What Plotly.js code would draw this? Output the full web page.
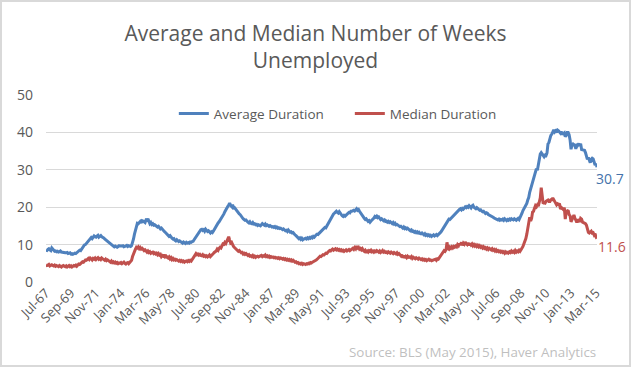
<!DOCTYPE html>
<html>
<head>
<meta charset="utf-8">
<script src="https://cdn.plot.ly/plotly-3.0.1.min.js"></script>
<style>
  html, body { margin: 0; padding: 0; background: #fff; }
  #wrap { position: relative; width: 631px; height: 367px; }
  #chart { width: 631px; height: 367px; }
  #frame { position: absolute; left: 0; top: 0; width: 631px; height: 367px; box-sizing: border-box; border: 2px solid #d9d9d9; pointer-events: none; }
</style>
</head>
<body>
<div id="wrap"><div id="chart"></div><div id="frame"></div></div>
<script>
// First month of the series and its x-axis tick labels (every 26 months)
const startYear = 1967;
const startMonth = 7; // July
const tickLabels = ['Jul-67','Sep-69','Nov-71','Jan-74','Mar-76','May-78','Jul-80','Sep-82','Nov-84','Jan-87','Mar-89','May-91','Jul-93','Sep-95','Nov-97','Jan-00','Mar-02','May-04','Jul-06','Sep-08','Nov-10','Jan-13','Mar-15'];

// Average Duration (weeks), monthly Jul-1967 .. Apr-2015
const avgDuration = [
  8.5, 8.4, 8.7, 8.9, 8.6, 8.4,
  9.1, 8.7, 8.4, 8.2, 8.3, 8.1, 8.2, 8.0, 8.1, 8.3, 8.0, 7.9,
  8.0, 7.9, 7.8, 7.8, 7.9, 7.6, 7.7, 7.8, 7.5, 7.6, 7.4, 7.6,
  7.7, 7.6, 7.8, 8.2, 8.3, 8.5, 8.4, 8.8, 9.0, 9.4, 9.9, 10.0,
  10.3, 10.5, 10.9, 11.2, 11.4, 11.9, 11.6, 11.9, 12.3, 12.1, 12.0, 12.3,
  12.5, 12.0, 12.2, 12.4, 12.1, 12.0, 11.8, 11.5, 11.3, 11.0, 10.7, 10.5,
  10.4, 10.2, 10.0, 9.8, 9.6, 9.4, 9.6, 9.5, 9.3, 9.5, 9.7, 9.6,
  9.5, 9.6, 9.7, 9.4, 9.5, 9.6, 9.8, 9.5, 9.7, 9.6, 9.5, 9.7,
  10.4, 11.5, 12.8, 13.8, 14.9, 15.7, 15.6, 16.0, 16.2, 15.8, 16.4, 16.3,
  16.1, 15.9, 16.6, 16.5, 16.9, 16.2, 15.6, 15.9, 15.4, 15.6, 15.2, 15.3,
  15.0, 14.9, 14.7, 14.9, 14.6, 14.2, 14.4, 14.0, 13.8, 13.5, 13.3, 13.0,
  12.8, 12.6, 12.2, 12.4, 11.9, 11.7, 11.5, 11.6, 11.2, 11.0, 11.3, 10.9,
  10.8, 11.0, 10.7, 10.6, 10.4, 10.7, 10.5, 10.3, 10.6, 10.4, 10.5, 10.4,
  10.7, 10.6, 10.8, 10.9, 11.3, 11.7, 12.1, 12.6, 13.1, 13.4, 13.6, 14.0,
  14.1, 13.8, 14.0, 13.6, 14.1, 13.8, 13.5, 13.7, 13.3, 13.1, 13.4, 13.2,
  13.6, 14.1, 14.5, 14.8, 15.3, 15.8, 16.1, 16.5, 16.9, 17.3, 17.6, 18.2,
  18.8, 19.4, 19.8, 20.2, 20.6, 21.1, 20.5, 20.2, 20.7, 19.8, 19.9, 19.5,
  19.3, 18.9, 18.5, 18.2, 18.0, 17.5, 17.3, 16.9, 16.7, 16.5, 16.6, 16.2,
  16.0, 15.8, 16.1, 15.7, 15.6, 15.9, 15.5, 15.6, 15.3, 15.4, 15.1, 15.3,
  15.2, 15.0, 15.3, 15.6, 15.4, 15.2, 15.5, 15.1, 15.3, 15.0, 14.9, 15.1,
  14.9, 14.7, 14.8, 14.6, 14.8, 14.5, 14.7, 14.4, 14.5, 14.3, 14.4, 14.2,
  14.0, 14.2, 13.9, 13.7, 13.8, 13.5, 13.9, 13.6, 13.3, 13.4, 13.1, 13.2,
  12.8, 12.6, 12.4, 12.1, 11.9, 11.6, 11.8, 11.4, 11.7, 11.3, 11.5, 11.6,
  11.7, 11.5, 11.8, 11.6, 11.9, 11.7, 12.0, 11.8, 12.2, 12.0, 12.4, 12.6,
  12.8, 12.7, 13.0, 13.3, 13.5, 13.8, 14.0, 14.2, 14.6, 14.5, 15.0, 15.3,
  15.8, 16.4, 16.9, 17.3, 17.7, 18.2, 18.4, 18.6, 18.9, 18.6, 18.4, 18.8,
  18.3, 18.0, 17.7, 17.5, 17.8, 17.6, 17.9, 18.1, 18.3, 18.6, 18.5, 18.9,
  18.9, 19.1, 19.2, 19.0, 19.3, 19.6, 19.2, 19.4, 18.9, 18.6, 18.2, 17.8,
  17.4, 17.0, 16.7, 16.9, 16.5, 16.2, 16.4, 16.0, 16.3, 16.5, 16.9, 17.1,
  17.5, 17.3, 17.6, 17.2, 17.4, 17.0, 16.7, 16.9, 16.5, 16.4, 16.6, 16.2,
  16.3, 16.0, 16.2, 15.9, 16.1, 15.8, 15.6, 15.9, 15.5, 15.7, 15.3, 15.4,
  15.2, 15.0, 14.8, 14.9, 14.6, 14.4, 14.7, 14.3, 14.5, 14.2, 14.4, 14.0,
  13.9, 13.7, 13.9, 13.5, 13.6, 13.3, 13.5, 13.2, 13.4, 13.1, 13.3, 13.0,
  12.9, 13.1, 12.8, 12.6, 12.9, 12.5, 12.7, 12.4, 12.6, 12.3, 12.5, 12.2,
  12.4, 12.6, 12.3, 12.5, 12.7, 12.4, 12.6, 12.9, 13.2, 13.5, 13.9, 14.4,
  14.8, 15.3, 15.8, 16.1, 16.5, 16.8, 16.7, 17.0, 17.2, 17.6, 17.9, 18.2,
  18.4, 18.6, 18.9, 19.2, 19.4, 19.6, 19.3, 19.7, 19.5, 19.8, 20.1, 19.9,
  20.2, 20.0, 20.4, 20.1, 19.8, 20.3, 20.5, 20.0, 19.8, 19.6, 19.9, 19.5,
  19.4, 19.2, 19.3, 19.0, 18.8, 18.9, 18.6, 18.3, 18.5, 18.4, 18.0, 17.9,
  17.8, 17.5, 17.6, 17.3, 17.1, 17.0, 16.8, 16.9, 16.6, 16.8, 16.5, 16.7,
  16.6, 16.8, 16.5, 16.9, 16.6, 16.4, 16.7, 16.5, 16.8, 16.6, 16.9, 16.7,
  16.6, 16.9, 16.7, 16.5, 16.8, 17.0, 16.7, 17.2, 17.5, 18.4, 19.1, 19.6,
  19.8, 20.2, 21.0, 21.9, 22.6, 24.0, 25.0, 25.4, 26.5, 27.4, 28.9, 29.3,
  30.3, 29.9, 31.5, 33.3, 34.2, 34.6, 34.1, 33.7, 33.5, 33.9, 33.8, 34.5,
  36.9, 37.3, 38.8, 39.2, 39.5, 40.1, 40.7, 40.1, 40.4, 40.0, 40.6, 40.4,
  40.2, 39.8, 40.2, 39.4, 39.7, 39.9, 38.9, 39.2, 40.0, 40.0, 39.4, 38.0,
  35.5, 36.7, 36.9, 36.6, 36.5, 35.6, 36.9, 36.6, 37.0, 36.4, 37.0, 35.4,
  35.4, 35.2, 35.2, 34.6, 33.6, 32.8, 33.3, 32.6, 31.9, 32.8, 33.1, 32.9,
  32.0, 31.3, 31.6, 30.7
];

// Median Duration (weeks), monthly Jul-1967 .. Apr-2015
const medDuration = [
  4.6, 4.4, 4.5, 4.7, 4.3, 4.4,
  4.6, 4.4, 4.3, 4.5, 4.2, 4.4, 4.3, 4.1, 4.4, 4.2, 4.0, 4.3,
  4.4, 4.2, 4.1, 4.3, 4.0, 4.2, 4.4, 4.1, 4.3, 4.0, 4.2, 4.4,
  4.3, 4.5, 4.2, 4.6, 4.8, 4.7, 4.9, 5.2, 5.4, 5.3, 5.7, 5.9,
  5.8, 6.1, 6.3, 6.0, 6.4, 6.2, 5.9, 6.3, 6.1, 6.4, 6.0, 6.3,
  6.5, 6.1, 6.3, 6.0, 6.4, 6.2, 6.0, 5.8, 6.1, 5.7, 5.9, 5.6,
  5.5, 5.3, 5.6, 5.2, 5.4, 5.1, 5.3, 5.0, 5.2, 4.9, 5.1, 5.0,
  5.2, 4.9, 5.1, 5.3, 5.0, 4.8, 5.1, 5.2, 4.9, 5.3, 5.6, 5.8,
  6.8, 7.6, 8.5, 8.8, 9.3, 9.1, 9.4, 8.9, 9.2, 8.8, 9.0, 8.7,
  8.4, 8.6, 8.2, 8.0, 8.3, 7.9, 8.1, 7.7, 7.9, 8.0, 7.6, 7.8,
  7.5, 7.7, 7.3, 7.6, 7.2, 7.4, 6.8, 7.1, 6.9, 7.3, 6.7, 6.9,
  6.6, 6.4, 6.7, 6.2, 6.5, 6.0, 6.3, 5.9, 6.1, 5.8, 6.0, 5.7,
  5.6, 5.8, 5.5, 5.7, 5.4, 5.6, 5.3, 5.5, 5.6, 5.4, 5.7, 5.5,
  5.8, 5.6, 6.0, 6.3, 6.8, 7.4, 7.6, 7.3, 7.5, 7.2, 7.4, 7.1,
  7.0, 7.3, 6.9, 7.1, 6.8, 7.0, 6.7, 6.9, 7.2, 6.8, 7.0, 7.3,
  7.6, 7.9, 8.1, 8.3, 8.8, 8.5, 9.0, 9.3, 9.1, 9.7, 10.2, 10.1,
  10.6, 10.3, 10.9, 11.5, 12.1, 11.2, 10.4, 10.6, 9.9, 9.5, 9.2, 8.9,
  8.7, 8.5, 8.2, 8.4, 8.0, 7.8, 7.9, 7.5, 7.7, 7.4, 7.6, 7.2,
  7.1, 7.3, 6.9, 7.0, 6.8, 7.1, 6.7, 6.9, 6.6, 6.8, 6.9, 6.7,
  6.8, 6.9, 7.1, 6.8, 7.0, 6.9, 7.2, 6.8, 7.0, 6.7, 6.9, 6.6,
  6.8, 6.6, 6.7, 6.5, 6.6, 6.4, 6.5, 6.3, 6.5, 6.2, 6.4, 6.3,
  6.1, 6.3, 6.0, 6.2, 5.9, 6.1, 5.8, 6.0, 5.7, 5.9, 5.6, 5.8,
  5.5, 5.3, 5.4, 5.1, 5.2, 4.9, 5.0, 4.8, 5.0, 4.7, 4.9, 4.8,
  4.7, 4.9, 4.8, 5.0, 4.9, 5.2, 5.1, 5.3, 5.4, 5.6, 5.8, 5.9,
  6.1, 6.3, 6.6, 6.9, 6.8, 7.1, 7.3, 7.2, 7.5, 7.7, 7.6, 8.0,
  8.2, 8.4, 8.3, 8.6, 8.8, 8.5, 8.7, 8.9, 8.6, 8.8, 8.5, 8.7,
  8.4, 8.6, 8.3, 8.5, 8.2, 8.4, 8.6, 8.3, 8.5, 8.7, 8.4, 8.6,
  8.8, 9.0, 8.7, 9.2, 8.9, 9.6, 9.1, 9.3, 8.8, 9.0, 8.6, 8.9,
  8.4, 8.2, 8.5, 8.1, 8.3, 8.0, 8.4, 8.2, 8.5, 8.1, 8.3, 8.0,
  8.3, 8.1, 8.4, 8.2, 8.0, 8.3, 7.9, 8.1, 8.4, 8.0, 8.2, 7.9,
  8.0, 7.8, 8.1, 7.9, 7.7, 8.0, 7.8, 7.6, 7.9, 7.7, 7.5, 7.8,
  7.4, 7.6, 7.2, 7.0, 7.3, 6.5, 7.1, 6.4, 6.8, 6.5, 6.9, 6.6,
  6.7, 6.5, 6.8, 6.3, 6.6, 6.4, 6.2, 6.5, 6.3, 6.1, 6.4, 6.2,
  6.0, 6.2, 5.9, 6.1, 5.8, 6.0, 5.7, 5.9, 6.1, 5.8, 5.9, 5.7,
  5.8, 6.0, 5.9, 6.1, 5.8, 6.2, 6.1, 6.5, 6.8, 7.2, 7.6, 8.0,
  8.4, 8.2, 8.6, 10.6, 9.0, 8.8, 9.3, 9.0, 9.4, 9.1, 9.5, 9.3,
  9.6, 9.4, 10.0, 9.7, 10.3, 9.9, 10.6, 9.8, 10.4, 10.1, 10.7, 10.2,
  10.0, 10.5, 9.8, 10.3, 9.9, 10.2, 9.7, 10.0, 9.6, 9.9, 9.5, 9.8,
  9.4, 9.7, 9.3, 9.5, 9.1, 9.4, 9.0, 9.2, 8.8, 9.1, 8.7, 9.0,
  8.8, 8.6, 8.9, 8.5, 8.7, 8.3, 8.6, 8.2, 8.4, 8.1, 8.3, 8.0,
  8.2, 7.9, 8.1, 7.7, 8.0, 7.6, 8.2, 7.8, 8.1, 7.9, 8.3, 8.0,
  8.2, 7.9, 8.4, 8.0, 8.3, 8.1, 8.5, 8.2, 8.6, 9.0, 9.5, 10.2,
  10.7, 11.6, 12.8, 14.3, 15.2, 17.3, 16.3, 17.0, 18.7, 18.9, 19.7, 20.4,
  20.1, 20.6, 20.3, 21.6, 22.5, 25.2, 22.3, 21.0, 21.2, 21.1, 21.6, 21.8,
  21.9, 21.5, 21.5, 22.0, 22.0, 22.5, 21.9, 21.6, 21.1, 20.6, 20.9, 20.7,
  21.0, 19.5, 19.9, 19.5, 19.4, 19.9, 16.8, 18.7, 18.9, 19.2, 18.0, 17.7,
  16.1, 16.7, 17.7, 17.9, 17.1, 16.2, 15.9, 16.7, 16.5, 16.1, 17.0, 16.8,
  16.0, 15.9, 15.6, 15.6, 15.2, 13.7, 13.3, 13.1, 13.3, 13.6, 13.1, 13.2,
  12.6, 12.9, 12.0, 11.6
];

const yTicks = [0, 10, 20, 30, 40, 50];
const seriesNames = ['Average Duration', 'Median Duration'];
const titleText = 'Average and Median Number of Weeks<br>Unemployed';
const sourceText = 'Source: BLS (May 2015), Haver Analytics';

// Month category labels (e.g. "Jul-67") for each data point
const monNames = ['Jan','Feb','Mar','Apr','May','Jun','Jul','Aug','Sep','Oct','Nov','Dec'];
const months = avgDuration.map((_, i) => {
  const t = (startMonth - 1) + i;
  const y = startYear + Math.floor(t / 12);
  return monNames[t % 12] + '-' + String(y % 100).padStart(2, '0');
});

const blue = '#4F81BD';
const red = '#C0504D';
const grey = '#595959';
const FONT = 'Open Sans, sans-serif';

const lastIdx = months.length - 1;

const traces = [
  { x: months, y: avgDuration, type: 'scatter', mode: 'lines', name: seriesNames[0],
    line: { color: blue, width: 3 } },
  { x: months, y: medDuration, type: 'scatter', mode: 'lines', name: seriesNames[1],
    line: { color: red, width: 3 } }
];

const M = { l: 46, r: 34, t: 95, b: 85 };
const PW = 631 - M.l - M.r;
const PH = 367 - M.t - M.b;

const layout = {
  width: 631, height: 367,
  margin: M,
  paper_bgcolor: '#ffffff', plot_bgcolor: '#ffffff',
  font: { family: FONT, color: grey },
  title: { text: titleText, font: { family: FONT, size: 21, color: grey },
           x: 0.5, xref: 'container', xanchor: 'center', y: 1 - 41 / 367, yref: 'container', yanchor: 'middle' },
  showlegend: true,
  legend: { orientation: 'h', x: 0.232, xanchor: 'left', y: 0.9, yanchor: 'middle',
            font: { family: FONT, size: 13.5, color: grey }, bgcolor: 'rgba(0,0,0,0)',
            entrywidth: 131, entrywidthmode: 'pixels' },
  xaxis: {
    type: 'category', range: [0, lastIdx], showgrid: false, zeroline: false,
    showline: false, ticks: '', tickmode: 'array', tickvals: tickLabels, ticktext: tickLabels,
    tickangle: -45, tickfont: { family: FONT, size: 13, color: grey }, fixedrange: true
  },
  yaxis: {
    range: [0, 50], tickmode: 'array', tickvals: yTicks, showgrid: true, gridcolor: '#d9d9d9',
    gridwidth: 1, zeroline: false, showline: false, ticks: '', ticklabelstandoff: 12,
    tickfont: { family: FONT, size: 14, color: grey }, fixedrange: true
  },
  annotations: [
    { x: months[lastIdx], y: avgDuration[lastIdx], xref: 'x', yref: 'y', text: String(avgDuration[lastIdx]),
      showarrow: false, xanchor: 'left', yanchor: 'middle', xshift: -3, yshift: -11,
      font: { family: FONT, size: 14, color: '#4472AA' } },
    { x: months[lastIdx], y: medDuration[lastIdx], xref: 'x', yref: 'y', text: String(medDuration[lastIdx]),
      showarrow: false, xanchor: 'left', yanchor: 'middle', xshift: -1, yshift: -8,
      font: { family: FONT, size: 14, color: red } },
    { x: (598 - M.l) / PW, y: (367 - M.b - 352) / PH, xref: 'paper', yref: 'paper', text: sourceText, showarrow: false,
      xanchor: 'right', yanchor: 'middle', font: { family: FONT, size: 13.4, color: '#bfbfbf' } }
  ]
};

Plotly.newPlot('chart', traces, layout, { displayModeBar: false, staticPlot: true });
</script>
</body>
</html>
